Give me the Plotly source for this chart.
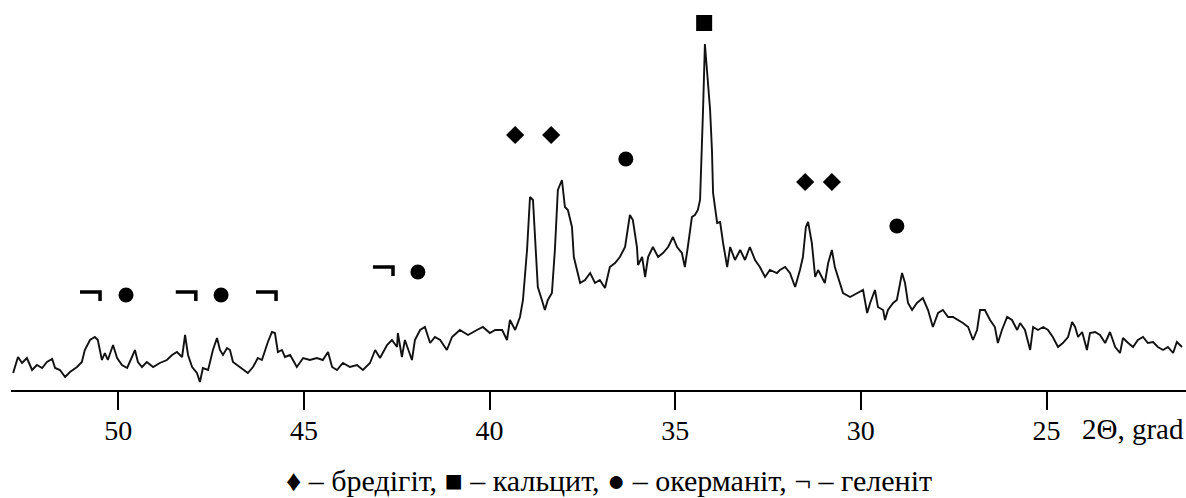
import plotly.graph_objects as go

# ---- XRD pattern (2theta in degrees, intensity in arbitrary units) ----
two_theta = [
    52.83, 52.70, 52.59, 52.46, 52.32, 52.19, 52.05, 51.92, 51.78, 51.70, 51.57, 51.43, 51.30, 51.11,
    50.98, 50.90, 50.76, 50.63, 50.55, 50.44, 50.36, 50.28, 50.14, 50.03, 49.90, 49.76, 49.63, 49.55,
    49.47, 49.36, 49.23, 49.06, 48.88, 48.69, 48.55, 48.42, 48.28, 48.20, 48.12, 48.01, 47.88, 47.80,
    47.72, 47.58, 47.45, 47.34, 47.26, 47.18, 47.07, 46.99, 46.91, 46.72, 46.51, 46.37, 46.24, 46.13,
    46.05, 45.97, 45.86, 45.78, 45.70, 45.59, 45.51, 45.37, 45.19, 45.02, 44.84, 44.65, 44.49, 44.35,
    44.24, 44.11, 43.95, 43.76, 43.57, 43.41, 43.22, 43.08, 42.95, 42.76, 42.63, 42.49, 42.47, 42.36,
    42.28, 42.09, 42.01, 41.87, 41.74, 41.60, 41.47, 41.33, 41.15, 41.01, 40.80, 40.58, 40.34, 40.18,
    39.99, 39.85, 39.66, 39.53, 39.45, 39.31, 39.18, 39.10, 38.99, 38.91, 38.83, 38.78, 38.70, 38.59,
    38.51, 38.43, 38.32, 38.24, 38.16, 38.05, 37.97, 37.89, 37.78, 37.73, 37.64, 37.56, 37.43, 37.29,
    37.16, 37.03, 36.89, 36.76, 36.62, 36.49, 36.35, 36.22, 36.14, 36.03, 36.00, 35.89, 35.81, 35.73,
    35.60, 35.46, 35.33, 35.19, 35.06, 34.95, 34.82, 34.74, 34.66, 34.55, 34.47, 34.39, 34.33, 34.28,
    34.25, 34.20, 34.14, 34.06, 34.01, 33.98, 33.87, 33.79, 33.71, 33.60, 33.52, 33.39, 33.25, 33.12,
    32.99, 32.85, 32.72, 32.58, 32.45, 32.26, 32.18, 32.04, 31.91, 31.77, 31.64, 31.56, 31.48, 31.42,
    31.32, 31.23, 31.15, 31.05, 30.97, 30.88, 30.78, 30.70, 30.62, 30.48, 30.29, 30.10, 29.94, 29.83,
    29.75, 29.62, 29.54, 29.40, 29.35, 29.27, 29.13, 29.03, 28.89, 28.81, 28.73, 28.62, 28.49, 28.33,
    28.19, 28.06, 27.92, 27.79, 27.65, 27.52, 27.38, 27.25, 27.11, 26.98, 26.87, 26.79, 26.66, 26.52,
    26.39, 26.31, 26.20, 26.06, 25.93, 25.79, 25.71, 25.58, 25.44, 25.36, 25.23, 25.09, 24.96, 24.83,
    24.69, 24.56, 24.42, 24.31, 24.23, 24.15, 24.04, 23.91, 23.83, 23.69, 23.56, 23.42, 23.29, 23.15,
    23.02, 22.94, 22.80, 22.67, 22.54, 22.40, 22.27, 22.13, 22.00, 21.86, 21.73, 21.59, 21.49, 21.35,
]
intensity = [
    17, 33, 27, 32, 20, 25, 22, 28, 31, 22, 20, 13, 18, 23,
    28, 40, 50, 53, 50, 30, 37, 30, 45, 32, 25, 22, 33, 40,
    28, 23, 28, 23, 27, 30, 35, 38, 33, 55, 35, 23, 17, 8,
    22, 20, 40, 52, 40, 35, 42, 40, 28, 23, 17, 23, 32, 30,
    40, 48, 58, 57, 38, 40, 33, 35, 23, 32, 30, 32, 30, 38,
    23, 20, 27, 23, 25, 20, 27, 40, 32, 45, 50, 43, 57, 33,
    50, 30, 50, 60, 63, 47, 53, 50, 40, 53, 60, 55, 60, 63,
    57, 60, 60, 50, 70, 60, 73, 90, 140, 193, 190, 157, 103, 90,
    80, 90, 97, 140, 200, 210, 183, 180, 163, 133, 120, 107, 110, 117,
    107, 110, 102, 123, 127, 133, 143, 175, 170, 143, 125, 133, 113, 133,
    143, 133, 137, 143, 153, 143, 137, 123, 143, 173, 175, 180, 190, 240,
    280, 346, 317, 280, 240, 197, 167, 168, 147, 123, 143, 130, 140, 130,
    143, 130, 123, 113, 120, 117, 120, 123, 117, 103, 120, 133, 163, 168,
    147, 113, 120, 113, 107, 127, 140, 123, 113, 97, 93, 97, 100, 77,
    87, 100, 83, 80, 70, 80, 87, 90, 117, 107, 87, 80, 87, 92,
    80, 63, 77, 80, 73, 73, 70, 67, 63, 50, 60, 80, 80, 70,
    63, 47, 60, 73, 70, 60, 67, 60, 40, 63, 60, 63, 60, 53,
    43, 47, 53, 68, 63, 53, 58, 40, 57, 58, 55, 47, 58, 43,
    37, 52, 47, 43, 50, 53, 47, 48, 43, 40, 43, 37, 48, 43,
]

# ---- phase marks (position in 2theta, height in the same intensity units) ----
bredigite_x = [39.31, 38.34, 31.50, 30.78]
bredigite_y = [255, 255, 208, 208]
calcite_x = [34.22]
calcite_y = [367]
akermanite_x = [49.79, 47.23, 41.93, 36.33, 29.03]
akermanite_y = [95, 95, 118, 231, 164]
gehlenite_x = [50.76, 48.18, 46.02, 42.87]
gehlenite_y = [98, 98, 98, 123]

tick_values = [50, 45, 40, 35, 30, 25]
tick_labels = ["50", "45", "40", "35", "30", "25"]
axis_title = "2Θ, grad"
legend_text = "♦ – бредігіт, ■ – кальцит, ● – окерманіт, ¬ – геленіт"

FONT = "Liberation Serif"

fig = go.Figure()

fig.add_trace(go.Scatter(
    x=two_theta, y=intensity, mode="lines",
    line=dict(color="#111111", width=1.9), showlegend=False, hoverinfo="skip",
))

fig.add_trace(go.Scatter(
    x=bredigite_x, y=bredigite_y, mode="markers",
    marker=dict(symbol="diamond", size=14, color="black"), showlegend=False, cliponaxis=False,
))
fig.add_trace(go.Scatter(
    x=calcite_x, y=calcite_y, mode="markers",
    marker=dict(symbol="square", size=16, color="black"), showlegend=False, cliponaxis=False,
))
fig.add_trace(go.Scatter(
    x=akermanite_x, y=akermanite_y, mode="markers",
    marker=dict(symbol="circle", size=15, color="black"), showlegend=False, cliponaxis=False,
))

# gehlenite sign drawn as a small "¬" glyph around each mark position
half_w = 0.27   # half width of the glyph in axis units
drop = 9        # vertical stroke in axis units
gx, gy = [], []
for cx, cy in zip(gehlenite_x, gehlenite_y):
    gx += [cx + half_w, cx - half_w, cx - half_w, None]
    gy += [cy, cy, cy - drop, None]
fig.add_trace(go.Scatter(
    x=gx, y=gy, mode="lines", line=dict(color="black", width=3.5),
    showlegend=False, hoverinfo="skip", cliponaxis=False,
))

fig.update_layout(
    width=1186, height=498,
    margin=dict(l=11, r=0, t=0, b=108),
    paper_bgcolor="white", plot_bgcolor="white",
    font=dict(family=FONT, size=28, color="black"),
    xaxis=dict(
        range=[52.888, 21.243], showgrid=False, zeroline=False,
        showline=True, linecolor="black", linewidth=2,
        ticks="outside", ticklen=18, tickwidth=2, tickcolor="black",
        tickvals=tick_values, ticktext=tick_labels, ticklabelstandoff=-4,
        tickfont=dict(family=FONT, size=28, color="black"),
    ),
    yaxis=dict(range=[0, 390], visible=False),
    annotations=[
        dict(text=axis_title, xref="paper", yref="paper", x=1.0, y=-0.101,
             xanchor="right", yanchor="middle", showarrow=False,
             font=dict(family=FONT, size=29, color="black")),
        dict(text=legend_text, xref="paper", yref="paper", x=0.509, y=-0.233,
             xanchor="center", yanchor="middle", showarrow=False,
             font=dict(family=FONT, size=30, color="black")),
    ],
)

fig.write_html("out.html", config={"displayModeBar": False},
               post_script="document.body.style.margin='0px';")
